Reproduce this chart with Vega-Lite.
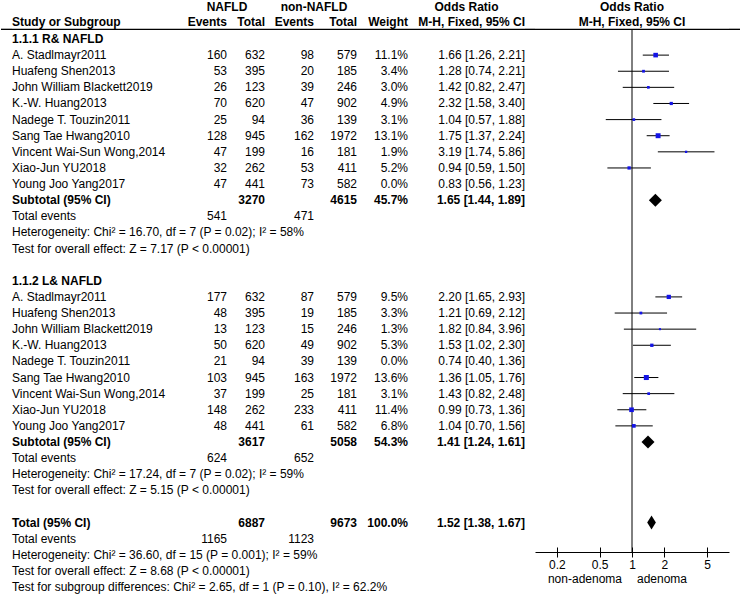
{
  "$schema": "https://vega.github.io/schema/vega-lite/v6.json",
  "padding": 0,
  "autosize": {"type": "pad"},
  "bounds": "flush",
  "spacing": 0,
  "background": "white",
  "config": {
    "view": {"stroke": null},
    "text": {"font": "Liberation Sans", "fontSize": 12, "color": "#000000", "baseline": "middle"},
    "axis": {"labelFont": "Liberation Sans", "labelFontSize": 12, "labelColor": "#000000", "domainColor": "#000000", "tickColor": "#000000", "grid": false, "title": null}
  },
  "datasets": {
    "rows": [
      {"row": 0, "kind": "section", "label": "1.1.1 R& NAFLD"},
      {"row": 1, "kind": "study", "label": "A. Stadlmayr2011", "e1": "160", "t1": "632", "e2": "98", "t2": "579", "w": "11.1%", "ci": "1.66 [1.26, 2.21]", "or": 1.66, "lo": 1.26, "hi": 2.21, "wt": 11.1},
      {"row": 2, "kind": "study", "label": "Huafeng Shen2013", "e1": "53", "t1": "395", "e2": "20", "t2": "185", "w": "3.4%", "ci": "1.28 [0.74, 2.21]", "or": 1.28, "lo": 0.74, "hi": 2.21, "wt": 3.4},
      {"row": 3, "kind": "study", "label": "John William Blackett2019", "e1": "26", "t1": "123", "e2": "39", "t2": "246", "w": "3.0%", "ci": "1.42 [0.82, 2.47]", "or": 1.42, "lo": 0.82, "hi": 2.47, "wt": 3.0},
      {"row": 4, "kind": "study", "label": "K.-W. Huang2013", "e1": "70", "t1": "620", "e2": "47", "t2": "902", "w": "4.9%", "ci": "2.32 [1.58, 3.40]", "or": 2.32, "lo": 1.58, "hi": 3.40, "wt": 4.9},
      {"row": 5, "kind": "study", "label": "Nadege T. Touzin2011", "e1": "25", "t1": "94", "e2": "36", "t2": "139", "w": "3.1%", "ci": "1.04 [0.57, 1.88]", "or": 1.04, "lo": 0.57, "hi": 1.88, "wt": 3.1},
      {"row": 6, "kind": "study", "label": "Sang Tae Hwang2010", "e1": "128", "t1": "945", "e2": "162", "t2": "1972", "w": "13.1%", "ci": "1.75 [1.37, 2.24]", "or": 1.75, "lo": 1.37, "hi": 2.24, "wt": 13.1},
      {"row": 7, "kind": "study", "label": "Vincent Wai-Sun Wong,2014", "e1": "47", "t1": "199", "e2": "16", "t2": "181", "w": "1.9%", "ci": "3.19 [1.74, 5.86]", "or": 3.19, "lo": 1.74, "hi": 5.86, "wt": 1.9},
      {"row": 8, "kind": "study", "label": "Xiao-Jun YU2018", "e1": "32", "t1": "262", "e2": "53", "t2": "411", "w": "5.2%", "ci": "0.94 [0.59, 1.50]", "or": 0.94, "lo": 0.59, "hi": 1.50, "wt": 5.2},
      {"row": 9, "kind": "study", "label": "Young Joo Yang2017", "e1": "47", "t1": "441", "e2": "73", "t2": "582", "w": "0.0%", "ci": "0.83 [0.56, 1.23]", "or": 0.83, "lo": 0.56, "hi": 1.23, "wt": 0},
      {"row": 10, "kind": "subtotal", "label": "Subtotal (95% CI)", "t1": "3270", "t2": "4615", "w": "45.7%", "ci": "1.65 [1.44, 1.89]", "or": 1.65, "lo": 1.44, "hi": 1.89},
      {"row": 11, "kind": "events", "label": "Total events", "e1": "541", "e2": "471"},
      {"row": 12, "kind": "note", "label": "Heterogeneity: Chi² = 16.70, df = 7 (P = 0.02); I² = 58%"},
      {"row": 13, "kind": "note", "label": "Test for overall effect: Z = 7.17 (P < 0.00001)"},
      {"row": 15, "kind": "section", "label": "1.1.2 L& NAFLD"},
      {"row": 16, "kind": "study", "label": "A. Stadlmayr2011", "e1": "177", "t1": "632", "e2": "87", "t2": "579", "w": "9.5%", "ci": "2.20 [1.65, 2.93]", "or": 2.20, "lo": 1.65, "hi": 2.93, "wt": 9.5},
      {"row": 17, "kind": "study", "label": "Huafeng Shen2013", "e1": "48", "t1": "395", "e2": "19", "t2": "185", "w": "3.3%", "ci": "1.21 [0.69, 2.12]", "or": 1.21, "lo": 0.69, "hi": 2.12, "wt": 3.3},
      {"row": 18, "kind": "study", "label": "John William Blackett2019", "e1": "13", "t1": "123", "e2": "15", "t2": "246", "w": "1.3%", "ci": "1.82 [0.84, 3.96]", "or": 1.82, "lo": 0.84, "hi": 3.96, "wt": 1.3},
      {"row": 19, "kind": "study", "label": "K.-W. Huang2013", "e1": "50", "t1": "620", "e2": "49", "t2": "902", "w": "5.3%", "ci": "1.53 [1.02, 2.30]", "or": 1.53, "lo": 1.02, "hi": 2.30, "wt": 5.3},
      {"row": 20, "kind": "study", "label": "Nadege T. Touzin2011", "e1": "21", "t1": "94", "e2": "39", "t2": "139", "w": "0.0%", "ci": "0.74 [0.40, 1.36]", "or": 0.74, "lo": 0.40, "hi": 1.36, "wt": 0},
      {"row": 21, "kind": "study", "label": "Sang Tae Hwang2010", "e1": "103", "t1": "945", "e2": "163", "t2": "1972", "w": "13.6%", "ci": "1.36 [1.05, 1.76]", "or": 1.36, "lo": 1.05, "hi": 1.76, "wt": 13.6},
      {"row": 22, "kind": "study", "label": "Vincent Wai-Sun Wong,2014", "e1": "37", "t1": "199", "e2": "25", "t2": "181", "w": "3.1%", "ci": "1.43 [0.82, 2.48]", "or": 1.43, "lo": 0.82, "hi": 2.48, "wt": 3.1},
      {"row": 23, "kind": "study", "label": "Xiao-Jun YU2018", "e1": "148", "t1": "262", "e2": "233", "t2": "411", "w": "11.4%", "ci": "0.99 [0.73, 1.36]", "or": 0.99, "lo": 0.73, "hi": 1.36, "wt": 11.4},
      {"row": 24, "kind": "study", "label": "Young Joo Yang2017", "e1": "48", "t1": "441", "e2": "61", "t2": "582", "w": "6.8%", "ci": "1.04 [0.70, 1.56]", "or": 1.04, "lo": 0.70, "hi": 1.56, "wt": 6.8},
      {"row": 25, "kind": "subtotal", "label": "Subtotal (95% CI)", "t1": "3617", "t2": "5058", "w": "54.3%", "ci": "1.41 [1.24, 1.61]", "or": 1.41, "lo": 1.24, "hi": 1.61},
      {"row": 26, "kind": "events", "label": "Total events", "e1": "624", "e2": "652"},
      {"row": 27, "kind": "note", "label": "Heterogeneity: Chi² = 17.24, df = 7 (P = 0.02); I² = 59%"},
      {"row": 28, "kind": "note", "label": "Test for overall effect: Z = 5.15 (P < 0.00001)"},
      {"row": 30, "kind": "total", "label": "Total (95% CI)", "t1": "6887", "t2": "9673", "w": "100.0%", "ci": "1.52 [1.38, 1.67]", "or": 1.52, "lo": 1.38, "hi": 1.67},
      {"row": 31, "kind": "events", "label": "Total events", "e1": "1165", "e2": "1123"},
      {"row": 32, "kind": "note", "label": "Heterogeneity: Chi² = 36.60, df = 15 (P = 0.001); I² = 59%"},
      {"row": 33, "kind": "note", "label": "Test for overall effect: Z = 8.68 (P < 0.00001)"},
      {"row": 34, "kind": "note", "label": "Test for subgroup differences: Chi² = 2.65, df = 1 (P = 0.10), I² = 62.2%"}
    ]
  },
  "hconcat": [
    {
      "width": 11, "height": 595,
      "data": {"values": [{}]},
      "mark": {"type": "rule", "color": "#000000", "strokeWidth": 1.3},
      "encoding": {"y": {"datum": -0.6, "type": "quantitative", "scale": {"domain": [-2.357, 34.553], "reverse": true, "nice": false, "zero": false}, "axis": null}}
    },
    {
      "width": 178, "height": 595,
      "layer": [
        {"data": {"values": [{}]}, "mark": {"type": "rule", "color": "#000000", "strokeWidth": 1.3},
         "encoding": {"y": {"datum": -0.6, "type": "quantitative", "scale": {"domain": [-2.357, 34.553], "reverse": true, "nice": false, "zero": false}, "axis": null}}},
        {"data": {"values": [{"row": -1.04, "label": "Study or Subgroup"}]},
         "mark": {"type": "text", "align": "left", "fontWeight": "bold"},
         "encoding": {"x": {"value": 0}, "y": {"field": "row", "type": "quantitative", "scale": {"domain": [-2.357, 34.553], "reverse": true, "nice": false, "zero": false}, "axis": null}, "text": {"field": "label"}}},
        {"data": {"name": "rows"}, "transform": [{"filter": "datum.kind == 'study' || datum.kind == 'events' || datum.kind == 'note'"}],
         "mark": {"type": "text", "align": "left"},
         "encoding": {"x": {"value": 0}, "y": {"field": "row", "type": "quantitative", "scale": {"domain": [-2.357, 34.553], "reverse": true, "nice": false, "zero": false}, "axis": null}, "text": {"field": "label"}}},
        {"data": {"name": "rows"}, "transform": [{"filter": "datum.kind == 'section' || datum.kind == 'subtotal' || datum.kind == 'total'"}],
         "mark": {"type": "text", "align": "left", "fontWeight": "bold"},
         "encoding": {"x": {"value": 0}, "y": {"field": "row", "type": "quantitative", "scale": {"domain": [-2.357, 34.553], "reverse": true, "nice": false, "zero": false}, "axis": null}, "text": {"field": "label"}}}
      ]
    },
    {
      "width": 37, "height": 595,
      "layer": [
        {"data": {"values": [{}]}, "mark": {"type": "rule", "color": "#000000", "strokeWidth": 1.3},
         "encoding": {"y": {"datum": -0.6, "type": "quantitative", "scale": {"domain": [-2.357, 34.553], "reverse": true, "nice": false, "zero": false}, "axis": null}}},
        {"data": {"values": [{"row": -1.04, "label": "Events"}]},
         "mark": {"type": "text", "align": "right", "fontWeight": "bold"},
         "encoding": {"x": {"value": "width"}, "y": {"field": "row", "type": "quantitative", "scale": {"domain": [-2.357, 34.553], "reverse": true, "nice": false, "zero": false}, "axis": null}, "text": {"field": "label"}}},
        {"data": {"name": "rows"}, "transform": [{"filter": "isValid(datum.e1)"}],
         "mark": {"type": "text", "align": "right"},
         "encoding": {"x": {"value": "width"}, "y": {"field": "row", "type": "quantitative", "scale": {"domain": [-2.357, 34.553], "reverse": true, "nice": false, "zero": false}, "axis": null}, "text": {"field": "e1"}}}
      ]
    },
    {
      "width": 38, "height": 595,
      "layer": [
        {"data": {"values": [{}]}, "mark": {"type": "rule", "color": "#000000", "strokeWidth": 1.3},
         "encoding": {"y": {"datum": -0.6, "type": "quantitative", "scale": {"domain": [-2.357, 34.553], "reverse": true, "nice": false, "zero": false}, "axis": null}}},
        {"data": {"values": [{"row": -1.99, "label": "NAFLD"}]},
         "mark": {"type": "text", "align": "center", "fontWeight": "bold"},
         "encoding": {"x": {"value": 0}, "y": {"field": "row", "type": "quantitative", "scale": {"domain": [-2.357, 34.553], "reverse": true, "nice": false, "zero": false}, "axis": null}, "text": {"field": "label"}}},
        {"data": {"values": [{"row": -1.04, "label": "Total"}]},
         "mark": {"type": "text", "align": "right", "fontWeight": "bold"},
         "encoding": {"x": {"value": "width"}, "y": {"field": "row", "type": "quantitative", "scale": {"domain": [-2.357, 34.553], "reverse": true, "nice": false, "zero": false}, "axis": null}, "text": {"field": "label"}}},
        {"data": {"name": "rows"}, "transform": [{"filter": "isValid(datum.t1) && datum.kind == 'study'"}],
         "mark": {"type": "text", "align": "right"},
         "encoding": {"x": {"value": "width"}, "y": {"field": "row", "type": "quantitative", "scale": {"domain": [-2.357, 34.553], "reverse": true, "nice": false, "zero": false}, "axis": null}, "text": {"field": "t1"}}},
        {"data": {"name": "rows"}, "transform": [{"filter": "isValid(datum.t1) && datum.kind != 'study'"}],
         "mark": {"type": "text", "align": "right", "fontWeight": "bold"},
         "encoding": {"x": {"value": "width"}, "y": {"field": "row", "type": "quantitative", "scale": {"domain": [-2.357, 34.553], "reverse": true, "nice": false, "zero": false}, "axis": null}, "text": {"field": "t1"}}}
      ]
    },
    {
      "width": 49, "height": 595,
      "layer": [
        {"data": {"values": [{}]}, "mark": {"type": "rule", "color": "#000000", "strokeWidth": 1.3},
         "encoding": {"y": {"datum": -0.6, "type": "quantitative", "scale": {"domain": [-2.357, 34.553], "reverse": true, "nice": false, "zero": false}, "axis": null}}},
        {"data": {"values": [{"row": -1.04, "label": "Events"}]},
         "mark": {"type": "text", "align": "right", "fontWeight": "bold"},
         "encoding": {"x": {"value": "width"}, "y": {"field": "row", "type": "quantitative", "scale": {"domain": [-2.357, 34.553], "reverse": true, "nice": false, "zero": false}, "axis": null}, "text": {"field": "label"}}},
        {"data": {"name": "rows"}, "transform": [{"filter": "isValid(datum.e2)"}],
         "mark": {"type": "text", "align": "right"},
         "encoding": {"x": {"value": "width"}, "y": {"field": "row", "type": "quantitative", "scale": {"domain": [-2.357, 34.553], "reverse": true, "nice": false, "zero": false}, "axis": null}, "text": {"field": "e2"}}}
      ]
    },
    {
      "width": 43, "height": 595,
      "layer": [
        {"data": {"values": [{}]}, "mark": {"type": "rule", "color": "#000000", "strokeWidth": 1.3},
         "encoding": {"y": {"datum": -0.6, "type": "quantitative", "scale": {"domain": [-2.357, 34.553], "reverse": true, "nice": false, "zero": false}, "axis": null}}},
        {"data": {"values": [{"row": -1.99, "label": "non-NAFLD"}]},
         "mark": {"type": "text", "align": "center", "fontWeight": "bold"},
         "encoding": {"x": {"value": 0}, "y": {"field": "row", "type": "quantitative", "scale": {"domain": [-2.357, 34.553], "reverse": true, "nice": false, "zero": false}, "axis": null}, "text": {"field": "label"}}},
        {"data": {"values": [{"row": -1.04, "label": "Total"}]},
         "mark": {"type": "text", "align": "right", "fontWeight": "bold"},
         "encoding": {"x": {"value": "width"}, "y": {"field": "row", "type": "quantitative", "scale": {"domain": [-2.357, 34.553], "reverse": true, "nice": false, "zero": false}, "axis": null}, "text": {"field": "label"}}},
        {"data": {"name": "rows"}, "transform": [{"filter": "isValid(datum.t2) && datum.kind == 'study'"}],
         "mark": {"type": "text", "align": "right"},
         "encoding": {"x": {"value": "width"}, "y": {"field": "row", "type": "quantitative", "scale": {"domain": [-2.357, 34.553], "reverse": true, "nice": false, "zero": false}, "axis": null}, "text": {"field": "t2"}}},
        {"data": {"name": "rows"}, "transform": [{"filter": "isValid(datum.t2) && datum.kind != 'study'"}],
         "mark": {"type": "text", "align": "right", "fontWeight": "bold"},
         "encoding": {"x": {"value": "width"}, "y": {"field": "row", "type": "quantitative", "scale": {"domain": [-2.357, 34.553], "reverse": true, "nice": false, "zero": false}, "axis": null}, "text": {"field": "t2"}}}
      ]
    },
    {
      "width": 51, "height": 595,
      "layer": [
        {"data": {"values": [{}]}, "mark": {"type": "rule", "color": "#000000", "strokeWidth": 1.3},
         "encoding": {"y": {"datum": -0.6, "type": "quantitative", "scale": {"domain": [-2.357, 34.553], "reverse": true, "nice": false, "zero": false}, "axis": null}}},
        {"data": {"values": [{"row": -1.04, "label": "Weight"}]},
         "mark": {"type": "text", "align": "right", "fontWeight": "bold"},
         "encoding": {"x": {"value": "width"}, "y": {"field": "row", "type": "quantitative", "scale": {"domain": [-2.357, 34.553], "reverse": true, "nice": false, "zero": false}, "axis": null}, "text": {"field": "label"}}},
        {"data": {"name": "rows"}, "transform": [{"filter": "isValid(datum.w) && datum.kind == 'study'"}],
         "mark": {"type": "text", "align": "right"},
         "encoding": {"x": {"value": "width"}, "y": {"field": "row", "type": "quantitative", "scale": {"domain": [-2.357, 34.553], "reverse": true, "nice": false, "zero": false}, "axis": null}, "text": {"field": "w"}}},
        {"data": {"name": "rows"}, "transform": [{"filter": "isValid(datum.w) && datum.kind != 'study'"}],
         "mark": {"type": "text", "align": "right", "fontWeight": "bold"},
         "encoding": {"x": {"value": "width"}, "y": {"field": "row", "type": "quantitative", "scale": {"domain": [-2.357, 34.553], "reverse": true, "nice": false, "zero": false}, "axis": null}, "text": {"field": "w"}}}
      ]
    },
    {
      "width": 117, "height": 595,
      "layer": [
        {"data": {"values": [{}]}, "mark": {"type": "rule", "color": "#000000", "strokeWidth": 1.3},
         "encoding": {"y": {"datum": -0.6, "type": "quantitative", "scale": {"domain": [-2.357, 34.553], "reverse": true, "nice": false, "zero": false}, "axis": null}}},
        {"data": {"values": [{"row": -1.99, "label": "Odds Ratio"}]},
         "mark": {"type": "text", "align": "center", "fontWeight": "bold"},
         "encoding": {"y": {"field": "row", "type": "quantitative", "scale": {"domain": [-2.357, 34.553], "reverse": true, "nice": false, "zero": false}, "axis": null}, "text": {"field": "label"}}},
        {"data": {"values": [{"row": -1.04, "label": "M-H, Fixed, 95% CI"}]},
         "mark": {"type": "text", "align": "right", "fontWeight": "bold"},
         "encoding": {"x": {"value": "width"}, "y": {"field": "row", "type": "quantitative", "scale": {"domain": [-2.357, 34.553], "reverse": true, "nice": false, "zero": false}, "axis": null}, "text": {"field": "label"}}},
        {"data": {"name": "rows"}, "transform": [{"filter": "isValid(datum.ci) && datum.kind == 'study'"}],
         "mark": {"type": "text", "align": "right"},
         "encoding": {"x": {"value": "width"}, "y": {"field": "row", "type": "quantitative", "scale": {"domain": [-2.357, 34.553], "reverse": true, "nice": false, "zero": false}, "axis": null}, "text": {"field": "ci"}}},
        {"data": {"name": "rows"}, "transform": [{"filter": "isValid(datum.ci) && datum.kind != 'study'"}],
         "mark": {"type": "text", "align": "right", "fontWeight": "bold"},
         "encoding": {"x": {"value": "width"}, "y": {"field": "row", "type": "quantitative", "scale": {"domain": [-2.357, 34.553], "reverse": true, "nice": false, "zero": false}, "axis": null}, "text": {"field": "ci"}}}
      ]
    },
    {
      "width": 10, "height": 595,
      "data": {"values": [{}]},
      "mark": {"type": "rule", "color": "#000000", "strokeWidth": 1.3},
      "encoding": {"y": {"datum": -0.6, "type": "quantitative", "scale": {"domain": [-2.357, 34.553], "reverse": true, "nice": false, "zero": false}, "axis": null}}
    },
    {
      "width": 194, "height": 551,
      "resolve": {"axis": {"x": "independent"}},
      "layer": [
        {"data": {"values": [{}]}, "mark": {"type": "rule", "color": "#000000", "strokeWidth": 1.3},
         "encoding": {"y": {"datum": -0.6, "type": "quantitative", "scale": {"domain": [-2.357, 31.824], "reverse": true, "nice": false, "zero": false}, "axis": null}}},
        {"data": {"values": [{"row": -1.99, "label": "Odds Ratio"}, {"row": -1.04, "label": "M-H, Fixed, 95% CI"}]},
         "mark": {"type": "text", "align": "center", "fontWeight": "bold"},
         "encoding": {"y": {"field": "row", "type": "quantitative", "axis": null}, "text": {"field": "label"}}},
        {"data": {"values": [{}]}, "mark": {"type": "rule", "color": "#000000", "strokeWidth": 1},
         "encoding": {
           "x": {"datum": 1, "type": "quantitative", "scale": {"type": "log", "domain": [0.125, 8], "nice": false},
                 "axis": {"orient": "bottom", "title": null, "values": [0.2, 0.5, 1, 2, 5], "domain": false, "labels": false, "ticks": true, "tickSize": 10, "offset": -5, "tickWidth": 1}},
           "y": {"datum": -0.6, "type": "quantitative"},
           "y2": {"datum": 31.824}
         }},
        {"data": {"name": "rows"}, "transform": [{"filter": "datum.kind == 'study' && datum.wt > 0"}],
         "mark": {"type": "rule", "color": "#000000", "strokeWidth": 1},
         "encoding": {
           "x": {"field": "lo", "type": "quantitative",
                 "axis": {"orient": "bottom", "title": null, "values": [0.2, 0.5, 1, 2, 5], "domain": true, "domainWidth": 1, "labels": true, "ticks": false, "labelPadding": 7, "labelFlush": false, "format": "~g"}},
           "x2": {"field": "hi"},
           "y": {"field": "row", "type": "quantitative"}
         }},
        {"data": {"name": "rows"}, "transform": [{"filter": "datum.kind == 'study' && datum.wt > 0"}],
         "mark": {"type": "point", "shape": "square", "filled": true, "opacity": 1, "color": "#1414e6"},
         "encoding": {
           "x": {"field": "or", "type": "quantitative", "axis": null},
           "y": {"field": "row", "type": "quantitative"},
           "size": {"field": "wt", "type": "quantitative", "scale": {"domain": [0, 14], "range": [2, 26]}, "legend": null}
         }},
        {"data": {"name": "rows"}, "transform": [{"filter": "datum.kind == 'subtotal'"}],
         "mark": {"type": "point", "shape": "diamond", "filled": true, "opacity": 1, "color": "#000000", "size": 169},
         "encoding": {
           "x": {"field": "or", "type": "quantitative", "axis": null},
           "y": {"field": "row", "type": "quantitative"}
         }},
        {"data": {"name": "rows"}, "transform": [{"filter": "datum.kind == 'total'"}],
         "mark": {"type": "point", "shape": "M-0.62,0L0,-1L0.62,0L0,1Z", "filled": true, "opacity": 1, "color": "#000000", "size": 196},
         "encoding": {
           "x": {"field": "or", "type": "quantitative", "axis": null},
           "y": {"field": "row", "type": "quantitative"}
         }},
        {"data": {"values": [{}]},
         "mark": {"type": "text", "align": "right", "dx": -10},
         "encoding": {"x": {"datum": 1, "type": "quantitative", "axis": null}, "y": {"datum": 33.5, "type": "quantitative"}, "text": {"value": "non-adenoma"}}},
        {"data": {"values": [{}]},
         "mark": {"type": "text", "align": "left", "dx": 5},
         "encoding": {"x": {"datum": 1, "type": "quantitative", "axis": null}, "y": {"datum": 33.5, "type": "quantitative"}, "text": {"value": "adenoma"}}}
      ]
    },
    {
      "width": 12, "height": 595,
      "data": {"values": [{}]},
      "mark": {"type": "rule", "color": "#000000", "strokeWidth": 1.3},
      "encoding": {"y": {"datum": -0.6, "type": "quantitative", "scale": {"domain": [-2.357, 34.553], "reverse": true, "nice": false, "zero": false}, "axis": null}}
    }
  ]
}
